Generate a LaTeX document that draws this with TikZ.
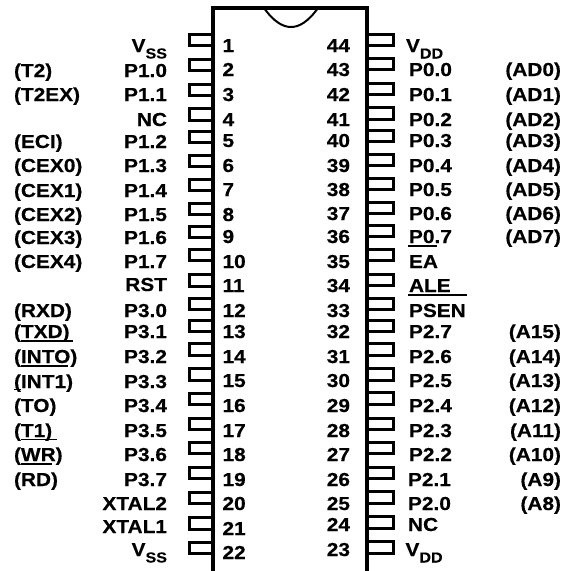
\documentclass[tikz,border=0pt]{standalone}
\usepackage{fontspec}
\setmainfont[FakeStretch=1.11,FakeBold=0.4]{Liberation Sans}
\newcommand{\subtxt}[1]{\raisebox{-6.5pt}{\fontsize{14.5}{16}\selectfont #1}}
\begin{document}
\begin{tikzpicture}[x=1pt,y=-1pt,
  lab/.style={inner sep=0pt,outer sep=0pt,font=\fontsize{18.8}{20}\selectfont\bfseries},
  nameL/.style={lab,anchor=base east},
  nameR/.style={lab,anchor=base west},
  pinshape/.style={draw=black,line width=3pt,line join=miter},
  body/.style={draw=black,line width=3.2pt,line join=miter},
  notch/.style={draw=black,line width=2pt},
  bar/.style={draw=black,line width=1.5pt}]
\useasboundingbox (0,0) rectangle (565,571);
% body
\draw[body] (213,571) -- (213,8) -- (367,8) -- (367,571);
\draw[notch] (264,8) .. controls (274,22) and (283,27) .. (291,27) .. controls (299,27) and (308,22) .. (318,8);
% pins left: top/bottom
\foreach \t/\b in {34/45,59/70,84/95,108/120,131/142,155/166,179/190,203/214,226/237,249/260,274/286,298/309,320/331,343/355,368/380,393/404,418/429,442/453,467/478,492/503,517/529,542/553}
  \draw[pinshape] (213,\t) -- (189.5,\t) -- (189.5,\b) -- (213,\b);
% pins right
\foreach \t/\b in {34/45,58/69,83/94,107/119,130/141,154/165,178/189,202/213,225/236,249/260,274/285,298/309,320/331,343/355,368/380,392/404,418/429,442/453,467/478,491/503,516/528,541/553}
  \draw[pinshape] (367,\t) -- (393,\t) -- (393,\b) -- (367,\b);
% numbers
\foreach \n/\y in {1/52,2/76,3/101,4/126,5/147,6/172,7/196,8/221,9/243,10/268,11/292,12/317,13/338,14/363,15/387,16/412,17/437,18/461,19/486,20/510,21/535,22/559}
  \node[nameR] (num\n) at (222.5,\y) {\n};
\foreach \n/\y in {44/52,43/76,42/101,41/126,40/147,39/172,38/196,37/220,36/243,35/268,34/292,33/317,32/338,31/363,30/387,29/412,28/437,27/461,26/486,25/510,24/531,23/556}
  \node[nameL] (num\n) at (350,\y) {\n};
% left names
\foreach \k/\y/\s in {a/77/P1.0,b/101/P1.1,c/126/NC,d/148/P1.2,e/172/P1.3,f/197/P1.4,g/221/P1.5,h/244/P1.6,i/268/P1.7,j/291/RST,k/317/P3.0,l/338/P3.1,m/363/P3.2,n/388/P3.3,o/412/P3.4,p/437/P3.5,q/461/P3.6,r/486/P3.7,s/510/XTAL2,t/533/XTAL1}
  \node[nameL] (ln\k) at (167,\y) {\s};
\node[nameL] (vss1) at (167,52) {V\subtxt{SS}};
\node[nameL] (vss2) at (167,556) {V\subtxt{SS}};
% left alternates
\foreach \k/\y/\s in {a/77/(T2),b/101/(T2EX),d/148/(ECI),e/172/(CEX0),f/197/(CEX1),g/221/(CEX2),h/244/(CEX3),i/268/(CEX4),k/317/(RXD),l/338/(TXD),m/363/(INTO),n/388/(INT1),o/412/(TO),p/437/(T1),q/461/(WR),r/486/(RD)}
  \node[nameR] (la\k) at (14,\y) {\s};
% right names
\foreach \k/\x/\y/\s in {a/409/76/P0.0,b/409/101/P0.1,c/409/126/P0.2,d/409/147/P0.3,e/409/172/P0.4,f/409/196/P0.5,g/409/220/P0.6,h/409/243/P0.7,i/409/268/EA,j/409/292/ALE,k/409/317/PSEN,l/409/338/P2.7,m/409/363/P2.6,n/409/387/P2.5,o/409/412/P2.4,p/409/437/P2.3,q/409/461/P2.2,r/408/486/P2.1,s/408/510/P2.0,t/408/531/NC}
  \node[nameR] (rn\k) at (\x,\y) {\s};
\node[nameR] (vdd1) at (406,52) {V\subtxt{DD}};
\node[nameR] (vdd2) at (405.5,556) {V\subtxt{DD}};
% right alternates
\foreach \k/\y/\s in {a/76/(AD0),b/101/(AD1),c/126/(AD2),d/147/(AD3),e/172/(AD4),f/196/(AD5),g/220/(AD6),h/243/(AD7),l/338/(A15),m/363/(A14),n/387/(A13),o/412/(A12),p/437/(A11),q/461/(A10),r/486/(A9),s/510/(A8)}
  \node[nameL] (ra\k) at (561,\y) {\s};
% rules
\draw[bar] (21,341) -- (73,341);
\draw[bar] (21,366) -- (68,366);
\draw[bar] (14,389.5) -- (21,389.5);
\draw[bar] (21,439.5) -- (57,439.5);
\draw[bar] (21,464) -- (52,464);
\draw[bar] (408,246) -- (437,246);
\draw[bar] (408,295) -- (467,295);
\end{tikzpicture}
\end{document}
